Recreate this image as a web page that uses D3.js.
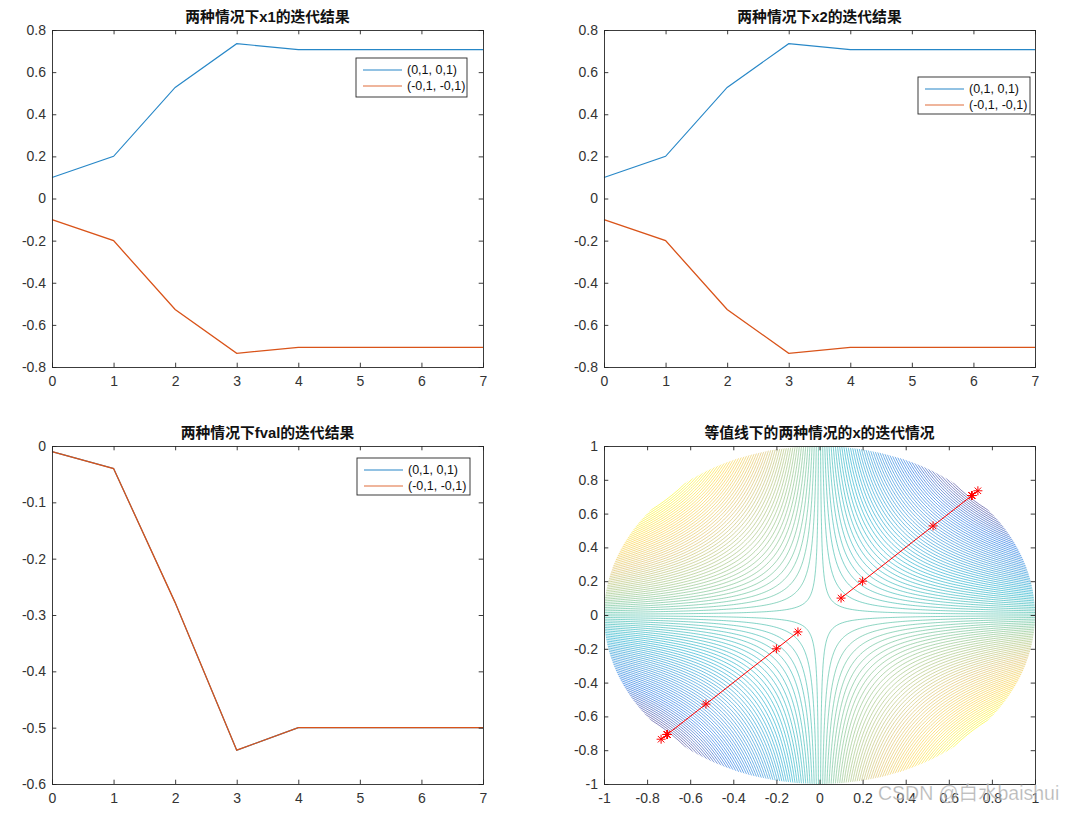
<!DOCTYPE html>
<html><head><meta charset="utf-8">
<script src="https://cdn.jsdelivr.net/npm/d3@7"></script>
<style>
body{margin:0;background:#fff;}
svg{display:block;}
text{font-family:Arial,"Liberation Sans","Noto Sans CJK SC",sans-serif;}
</style>
</head><body>
<svg id="c" width="1069" height="815"></svg>
<script>
// ---------- data ----------
const iterations = [0, 1, 2, 3, 4, 5, 6, 7];
const x1CaseA = [0.1, 0.2, 0.527, 0.735, 0.707, 0.707, 0.707, 0.707];
const x1CaseB = [-0.1, -0.2, -0.527, -0.735, -0.707, -0.707, -0.707, -0.707];
const x2CaseA = [0.1, 0.2, 0.527, 0.735, 0.707, 0.707, 0.707, 0.707];
const x2CaseB = [-0.1, -0.2, -0.527, -0.735, -0.707, -0.707, -0.707, -0.707];
const fvalCaseA = [-0.01, -0.04, -0.278, -0.540, -0.5, -0.5, -0.5, -0.5];
const fvalCaseB = [-0.01, -0.04, -0.278, -0.540, -0.5, -0.5, -0.5, -0.5];
const seriesNames = ["(0,1, 0,1)", "(-0,1, -0,1)"];
const panelTitles = ["两种情况下x1的迭代结果", "两种情况下x2的迭代结果", "两种情况下fval的迭代结果", "等值线下的两种情况的x的迭代情况"];
const iterTicks = [0, 1, 2, 3, 4, 5, 6, 7];
const xValueTicks = [-0.8, -0.6, -0.4, -0.2, 0, 0.2, 0.4, 0.6, 0.8];
const fvalTicks = [-0.6, -0.5, -0.4, -0.3, -0.2, -0.1, 0];
const contourTicks = [-1, -0.8, -0.6, -0.4, -0.2, 0, 0.2, 0.4, 0.6, 0.8, 1];
const contourLevelCount = 100;
const contourGridSize = 261;
const objective = (a, b) => -a * b;   // f(x1,x2) shown by the contour plot
const watermark = "CSDN @白水baishui";

// ---------- style ----------
const C_BLUE = "#0072BD", C_ORANGE = "#D95319", C_AXIS = "#262626";
const parula = ["#352a87", "#0363e1", "#1485d4", "#06a7c6", "#38b99e", "#92bf73", "#d9ba56", "#fcce2e", "#f9fb0e"];
const parulaScale = d3.scaleLinear().domain(d3.range(parula.length).map(i => i / (parula.length - 1))).range(parula);

const svg = d3.select("#c");
const panels = [
  {x: 52, y: 30, w: 431, h: 337},
  {x: 604, y: 30, w: 431, h: 337},
  {x: 52, y: 446, w: 431, h: 338},
  {x: 604, y: 446, w: 431, h: 338}
];

function drawAxes(g, p, sx, sy, xt, yt, title) {
  const tick = 4.3;
  g.append("g").attr("transform", `translate(0,${p.h})`)
    .call(d3.axisBottom(sx).tickValues(xt).tickSize(-tick).tickPadding(9.5).tickFormat(d => String(d)));
  g.append("g")
    .call(d3.axisTop(sx).tickValues(xt).tickSize(-tick).tickFormat(""));
  g.append("g")
    .call(d3.axisLeft(sy).tickValues(yt).tickSize(-tick).tickPadding(6).tickFormat(d => String(d)));
  g.append("g").attr("transform", `translate(${p.w},0)`)
    .call(d3.axisRight(sy).tickValues(yt).tickSize(-tick).tickFormat(""));
  g.selectAll(".domain").attr("stroke", C_AXIS).attr("stroke-width", 0.9);
  g.selectAll(".tick line").attr("stroke", C_AXIS).attr("stroke-width", 0.9);
  g.selectAll(".tick text").attr("fill", "#333").attr("font-size", "14px")
    .attr("font-family", "Arial,'Liberation Sans',sans-serif");
  g.append("text").attr("x", p.w / 2).attr("y", -8).attr("text-anchor", "middle")
    .attr("font-size", "14.8px").attr("font-weight", "bold").attr("fill", "#111")
    .attr("font-family", "Arial,'Noto Sans CJK SC',sans-serif")
    .text(title);
}

function drawLegend(g, lx, ly, w, h) {
  const lg = g.append("g").attr("transform", `translate(${lx},${ly})`);
  lg.append("rect").attr("width", w).attr("height", h).attr("fill", "#fff")
    .attr("stroke", C_AXIS).attr("stroke-width", 0.9);
  [C_BLUE, C_ORANGE].forEach((c, i) => {
    const yy = 12 + i * 16;
    lg.append("line").attr("x1", 7).attr("x2", 46).attr("y1", yy).attr("y2", yy)
      .attr("stroke", c).attr("stroke-width", 1.1).attr("stroke-opacity", 0.85);
    lg.append("text").attr("x", 51).attr("y", yy).attr("dy", "0.35em")
      .attr("font-size", "12.5px").attr("fill", "#111").text(seriesNames[i]);
  });
}

function linePanel(idx, ya, yb, yDomain, yTicks, legendPos) {
  const p = panels[idx];
  const g = svg.append("g").attr("transform", `translate(${p.x},${p.y})`);
  const sx = d3.scaleLinear().domain([0, 7]).range([0, p.w]);
  const sy = d3.scaleLinear().domain(yDomain).range([p.h, 0]);
  const line = d3.line().x((d, i) => sx(iterations[i])).y(d => sy(d));
  g.append("path").datum(ya).attr("d", line).attr("fill", "none").attr("stroke", C_BLUE).attr("stroke-width", 1.1).attr("stroke-opacity", 0.85);
  g.append("path").datum(yb).attr("d", line).attr("fill", "none").attr("stroke", C_ORANGE).attr("stroke-width", 1.3).attr("stroke-opacity", 1);
  drawAxes(g, p, sx, sy, iterTicks, yTicks, panelTitles[idx]);
  drawLegend(g, legendPos[0] - p.x, legendPos[1] - p.y, legendPos[2], legendPos[3]);
}

linePanel(0, x1CaseA, x1CaseB, [-0.8, 0.8], xValueTicks, [356, 58, 111, 39]);
linePanel(1, x2CaseA, x2CaseB, [-0.8, 0.8], xValueTicks, [918, 77, 112, 37]);
linePanel(2, fvalCaseA, fvalCaseB, [-0.6, 0], fvalTicks, [357, 458, 113, 37]);

// ---------- contour panel ----------
(function () {
  const p = panels[3];
  const g = svg.append("g").attr("transform", `translate(${p.x},${p.y})`);
  const sx = d3.scaleLinear().domain([-1, 1]).range([0, p.w]);
  const sy = d3.scaleLinear().domain([-1, 1]).range([p.h, 0]);
  const n = contourGridSize;
  const gridX = d3.range(n).map(i => -1 + 2 * i / (n - 1));
  const values = new Float64Array(n * n);
  let zmin = Infinity, zmax = -Infinity;
  for (let j = 0; j < n; j++) for (let i = 0; i < n; i++) {
    const v = objective(gridX[i], gridX[j]);
    values[j * n + i] = v;
    if (gridX[i] * gridX[i] + gridX[j] * gridX[j] <= 1) { zmin = Math.min(zmin, v); zmax = Math.max(zmax, v); }
  }
  const levels = d3.range(1, contourLevelCount + 1).map(k => zmin + k * (zmax - zmin) / (contourLevelCount + 1));
  const contours = d3.contours().size([n, n]).thresholds(levels)(values);
  const g2d = d => -1 + 2 * (d - 0.5) / (n - 1);
  const proj = d3.geoTransform({point(x, y) { this.stream.point(sx(g2d(x)), sy(g2d(y))); }});
  const path = d3.geoPath(proj);
  const colorOf = d3.scaleLinear().domain([zmin, zmax]).range([0, 1]);
  svg.append("defs").append("clipPath").attr("id", "disk")
    .append("ellipse").attr("cx", sx(0)).attr("cy", sy(0))
    .attr("rx", sx(1) - sx(0)).attr("ry", sy(0) - sy(1));
  g.append("g").attr("clip-path", "url(#disk)")
    .selectAll("path").data(contours).join("path")
    .attr("d", path).attr("fill", "none")
    .attr("stroke", d => parulaScale(colorOf(d.value)))
    .attr("stroke-width", 0.85).attr("stroke-opacity", 0.72);

  const line = d3.line().x(d => sx(d[0])).y(d => sy(d[1]));
  const star = (r) => `M${-r},0L${r},0M0,${-r}L0,${r}M${-r*0.72},${-r*0.72}L${r*0.72},${r*0.72}M${-r*0.72},${r*0.72}L${r*0.72},${-r*0.72}`;
  [[x1CaseA, x2CaseA], [x1CaseB, x2CaseB]].forEach(([xs, ys]) => {
    const pts = xs.map((v, i) => [v, ys[i]]);
    g.append("path").datum(pts).attr("d", line).attr("fill", "none").attr("stroke", "#ff0000").attr("stroke-width", 1);
    g.selectAll(null).data(pts).join("path")
      .attr("transform", d => `translate(${sx(d[0])},${sy(d[1])})`)
      .attr("d", star(4.5)).attr("stroke", "#ff0000").attr("stroke-width", 1).attr("fill", "none");
  });
  drawAxes(g, p, sx, sy, contourTicks, contourTicks, panelTitles[3]);
})();

// watermark
svg.append("text").attr("x", 878).attr("y", 800).attr("font-size", "19.5px")
  .attr("font-family", "'Noto Sans CJK SC',Arial,sans-serif")
  .attr("fill", "rgba(150,150,150,0.7)").attr("stroke", "rgba(255,255,255,0.5)").attr("stroke-width", 0.5)
  .text(watermark);
</script>
</body></html>
